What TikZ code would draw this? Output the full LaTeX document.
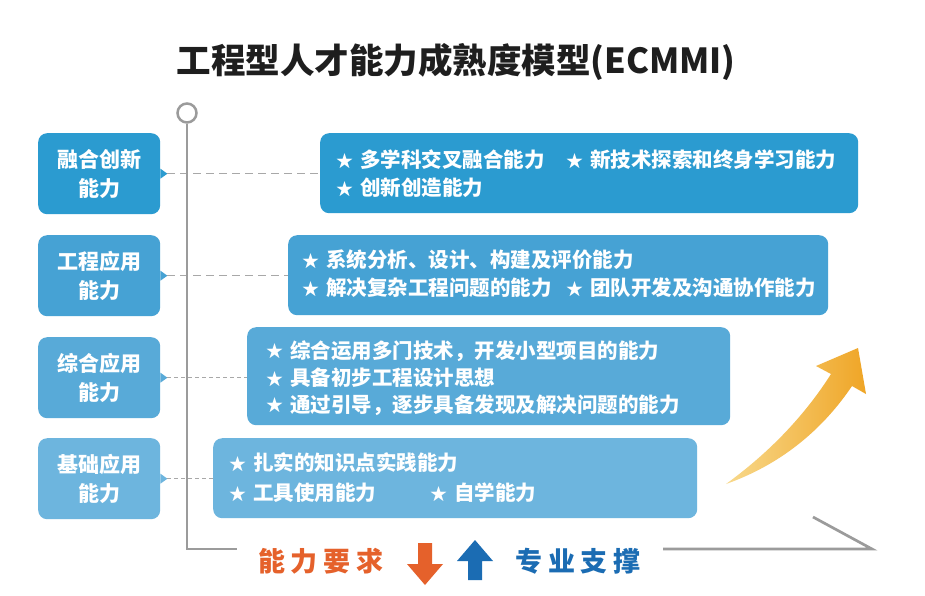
\documentclass[tikz,border=0pt]{standalone}
\usepackage{fontspec}
\setmainfont{Noto Sans CJK SC}
\usetikzlibrary{calc}
\definecolor{bA}{HTML}{2B9BD0}
\definecolor{bB}{HTML}{46A2D4}
\definecolor{bC}{HTML}{58AAD8}
\definecolor{bD}{HTML}{6DB5DE}
\definecolor{axisgray}{HTML}{9B9B9B}
\definecolor{dashgray}{HTML}{A8A8A8}
\definecolor{orng}{HTML}{E5612B}
\definecolor{blu}{HTML}{1B6CB3}
\definecolor{titlec}{HTML}{1E1E1E}
\definecolor{arrowA}{HTML}{F8D98C}
\definecolor{arrowB}{HTML}{EFA526}
\newcommand{\mystar}{\makebox[24pt][l]{\raisebox{0.5pt}{\fontsize{17}{17}\selectfont ★}}}
\tikzset{
  boxstyle/.style={rounded corners=9pt, fill=#1, draw=none, inner sep=0pt, anchor=north west},
  ltext/.style={text=white, font=\bfseries\fontsize{21}{29}\selectfont, align=center},
  itemtext/.style={text=white, font=\bfseries\fontsize{20.5}{24}\selectfont, anchor=west, inner sep=0pt},
  dashln/.style={draw=dashgray, line width=1.4pt, dash pattern=on 8pt off 5pt},
  dotln/.style={draw=dashgray, line width=1.2pt, dash pattern=on 4pt off 3pt},
  axisln/.style={draw=axisgray, line width=2.7pt},
}
\begin{document}
\begin{tikzpicture}[x=1pt, y=-1pt]
\useasboundingbox[fill=white] (0,0) rectangle (925,595);

% title
\node[font=\bfseries\fontsize{34.5}{35}\selectfont, text=titlec] (T) at (456,62) {工程型人才能力成熟度模型(ECMMI)};

% left boxes
\node[boxstyle=bA, minimum width=122pt, minimum height=81pt] (L1) at (38,133) {};
\node[boxstyle=bB, minimum width=122pt, minimum height=81pt] (L2) at (38,235) {};
\node[boxstyle=bC, minimum width=122pt, minimum height=81pt] (L3) at (38,337) {};
\node[boxstyle=bD, minimum width=122pt, minimum height=81pt] (L4) at (38,438) {};
\foreach \n/\c in {L1/bA, L2/bB, L3/bC, L4/bD}{
  \fill[\c] ([yshift=5pt]\n.east) -- ([xshift=7pt]\n.east) -- ([yshift=-5pt]\n.east) -- cycle;
}
\node[ltext] (L1t) at (L1.center) {融合创新\\能力};
\node[ltext] (L2t) at (L2.center) {工程应用\\能力};
\node[ltext] (L3t) at (L3.center) {综合应用\\能力};
\node[ltext] (L4t) at (L4.center) {基础应用\\能力};

% right boxes
\node[boxstyle=bA, minimum width=538pt, minimum height=80pt] (R1) at (320,133) {};
\node[boxstyle=bB, minimum width=540pt, minimum height=80pt] (R2) at (288,235) {};
\node[boxstyle=bC, minimum width=483pt, minimum height=98pt] (R3) at (247,327) {};
\node[boxstyle=bD, minimum width=484pt, minimum height=80pt] (R4) at (213,438) {};

% dashed connectors
\draw[dashln] ([xshift=7pt]L1.east) -- (R1.west |- L1.east);
\draw[dashln] ([xshift=7pt]L2.east) -- (R2.west |- L2.east);
\draw[dotln] ([xshift=7pt]L3.east) -- (R3.west |- L3.east);
\draw[dotln] ([xshift=7pt]L4.east) -- (R4.west |- L4.east);

% items
\node[itemtext] (i11) at (336,160) {\mystar 多学科交叉融合能力};
\node[itemtext] (i12) at (566,160) {\mystar 新技术探索和终身学习能力};
\node[itemtext] (i13) at (336,188) {\mystar 创新创造能力};
\node[itemtext] (i21) at (302,260) {\mystar 系统分析、设计、构建及评价能力};
\node[itemtext] (i22) at (302,288) {\mystar 解决复杂工程问题的能力};
\node[itemtext] (i23) at (566,288) {\mystar 团队开发及沟通协作能力};
\node[itemtext] (i31) at (266,351) {\mystar 综合运用多门技术，开发小型项目的能力};
\node[itemtext] (i32) at (266,378) {\mystar 具备初步工程设计思想};
\node[itemtext] (i33) at (266,405) {\mystar 通过引导，逐步具备发现及解决问题的能力};
\node[itemtext] (i41) at (229,463) {\mystar 扎实的知识点实践能力};
\node[itemtext] (i42) at (229,493) {\mystar 工具使用能力};
\node[itemtext] (i43) at (430,493) {\mystar 自学能力};

% axis
\coordinate (top) at (187,124);
\coordinate (corner) at (187,549);
\coordinate (lend) at (237,549);
\coordinate (rstart) at (663,549);
\coordinate (rend) at (872,549);
\coordinate (tick) at (813,517);
\draw[axisln] (top) -- (corner) -- (lend);
\draw[axisln, line join=miter] (rstart) -- (rend) -- (tick);
\node[circle, draw=axisgray, line width=2.5pt, fill=white, minimum size=19pt, inner sep=0pt] (C) at (187,113) {};

% bottom labels
\node[text=orng, font=\bfseries\fontsize{27}{27}\selectfont] (req) at (321,561) {能\kern6pt 力\kern6pt 要\kern6pt 求};
\node[text=blu, font=\bfseries\fontsize{27}{27}\selectfont] (sup) at (578,561) {专\kern6pt 业\kern6pt 支\kern6pt 撑};
\fill[orng] (418,543) -- (432,543) -- (432,564) -- (443,564) -- (425,585) -- (407,564) -- (418,564) -- cycle;
\fill[blu] (475,540) -- (493,561) -- (482,561) -- (482,580) -- (468,580) -- (468,561) -- (457,561) -- cycle;

% rising arrow
\shade[left color=arrowA, right color=arrowB]
  (726,484) .. controls (785,463) and (825,426) .. (852,386)
  -- (866,394) -- (858,348) -- (816,366) -- (831,374)
  .. controls (805,415) and (770,452) .. (726,484) -- cycle;
\end{tikzpicture}
\end{document}
